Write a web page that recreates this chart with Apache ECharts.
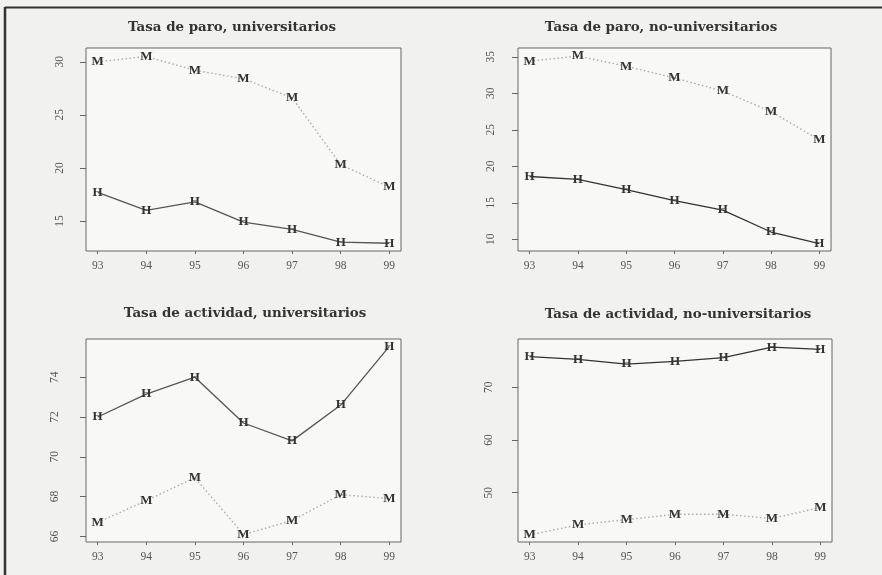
<!DOCTYPE html>
<html>
<head>
<meta charset="utf-8">
<script src="https://cdn.jsdelivr.net/npm/echarts@6/dist/echarts.min.js"></script>
<style>
html,body{margin:0;padding:0;background:#f1f1ef;}
#c{width:882px;height:575px;}
</style>
</head>
<body>
<div id="c"></div>
<script>
// ---- data ----
const years = [93, 94, 95, 96, 97, 98, 99];
const xTicks = [93, 94, 95, 96, 97, 98, 99];

const titles = [
  "Tasa de paro, universitarios",
  "Tasa de paro, no-universitarios",
  "Tasa de actividad, universitarios",
  "Tasa de actividad, no-universitarios"
];

// Tasa de paro, universitarios
const paroUnivH = [17.7, 16.0, 16.8, 14.9, 14.2, 13.0, 12.9];
const paroUnivM = [30.0, 30.5, 29.2, 28.4, 26.6, 20.3, 18.2];
const yTicks1 = [15, 20, 25, 30];

// Tasa de paro, no-universitarios
const paroNoUnivH = [18.6, 18.2, 16.8, 15.3, 14.0, 11.0, 9.4];
const paroNoUnivM = [34.4, 35.1, 33.7, 32.1, 30.3, 27.5, 23.6];
const yTicks2 = [10, 15, 20, 25, 30, 35];

// Tasa de actividad, universitarios
const actUnivH = [72.0, 73.15, 74.0, 71.7, 70.8, 72.6, 75.55];
const actUnivM = [66.7, 67.8, 68.95, 66.1, 66.8, 68.1, 67.9];
const yTicks3 = [66, 68, 70, 72, 74];

// Tasa de actividad, no-universitarios
const actNoUnivH = [75.8, 75.3, 74.4, 74.9, 75.6, 77.6, 77.2];
const actNoUnivM = [42.0, 43.9, 44.9, 45.9, 45.9, 45.1, 47.2];
const yTicks4 = [50, 60, 70];

// ---- layout / style ----
const panels = [
  {h: paroUnivH, m: paroUnivM, ticks: yTicks1, ymin: 12.17, ymax: 31.3,
   grid: {left: 86, top: 48, width: 315, height: 203}, title: [232, 28], yMargin: 20, hColor: '#555'},
  {h: paroNoUnivH, m: paroNoUnivM, ticks: yTicks2, ymin: 8.4, ymax: 36.2,
   grid: {left: 518, top: 48, width: 313, height: 203}, title: [661, 28], yMargin: 21, hColor: '#333'},
  {h: actUnivH, m: actUnivM, ticks: yTicks3, ymin: 65.72, ymax: 75.92,
   grid: {left: 86, top: 339, width: 315, height: 203}, title: [245, 314], yMargin: 25, hColor: '#555'},
  {h: actNoUnivH, m: actNoUnivM, ticks: yTicks4, ymin: 40.65, ymax: 79.15,
   grid: {left: 518, top: 339, width: 314, height: 203}, title: [678, 315], yMargin: 23, hColor: '#333'}
];

const serif = '"Liberation Serif", "DejaVu Serif", serif';
const grids = [], xAxes = [], yAxes = [], series = [], graphics = [];

panels.forEach((p, i) => {
  grids.push(Object.assign({
    show: true, borderColor: '#666', borderWidth: 1, backgroundColor: '#f8f8f7'
  }, p.grid));
  xAxes.push({
    type: 'value', gridIndex: i, min: 92.76, max: 99.24,
    axisLine: {show: false}, splitLine: {show: false},
    axisTick: {show: true, customValues: xTicks, length: 3, lineStyle: {color: '#666'}},
    axisLabel: {customValues: xTicks, margin: 9, color: '#555',
      fontFamily: serif, fontSize: 11.5}
  });
  yAxes.push({
    type: 'value', gridIndex: i, min: p.ymin, max: p.ymax,
    axisLine: {show: false}, splitLine: {show: false},
    axisTick: {show: true, customValues: p.ticks, length: 6, lineStyle: {color: '#666'}},
    axisLabel: {customValues: p.ticks, rotate: 90, margin: p.yMargin, color: '#555',
      fontFamily: serif, fontSize: 11.5}
  });
  series.push({
    type: 'line', xAxisIndex: i, yAxisIndex: i,
    data: years.map((y, k) => [y, p.m[k]]),
    symbol: 'circle', symbolSize: 2,
    itemStyle: {color: 'rgba(0,0,0,0)', borderWidth: 0},
    lineStyle: {color: '#aaa', width: 1.4, type: [1.5, 2.5]},
    label: {show: true, position: 'inside', formatter: 'M', color: '#333',
      fontFamily: serif, fontSize: 13, fontWeight: 'bold'},
    emphasis: {disabled: true}, animation: false, z: 2
  });
  series.push({
    type: 'line', xAxisIndex: i, yAxisIndex: i,
    data: years.map((y, k) => [y, p.h[k]]),
    symbol: 'circle', symbolSize: 2,
    itemStyle: {color: 'rgba(0,0,0,0)', borderWidth: 0},
    lineStyle: {color: p.hColor, width: 1.3},
    label: {show: true, position: 'inside', formatter: 'H', color: '#333',
      fontFamily: serif, fontSize: 13, fontWeight: 'bold'},
    emphasis: {disabled: true}, animation: false, z: 3
  });
  graphics.push({
    type: 'text', x: p.title[0], y: p.title[1],
    style: {text: titles[i], textAlign: 'center', textVerticalAlign: 'middle',
      font: 'bold 13.4px "DejaVu Serif", serif', fill: '#333'}
  });
});

// outer frame of the scanned page
graphics.push({type: 'line', shape: {x1: 5, y1: 7.5, x2: 882, y2: 7.5},
  style: {stroke: '#333', lineWidth: 2}});
graphics.push({type: 'line', shape: {x1: 5, y1: 7, x2: 5, y2: 575},
  style: {stroke: '#333', lineWidth: 2.5}});

const chart = echarts.init(document.getElementById('c'), null, {renderer: 'canvas'});
chart.setOption({
  backgroundColor: '#f1f1ef',
  animation: false,
  grid: grids, xAxis: xAxes, yAxis: yAxes, series: series, graphic: graphics
});
</script>
</body>
</html>
